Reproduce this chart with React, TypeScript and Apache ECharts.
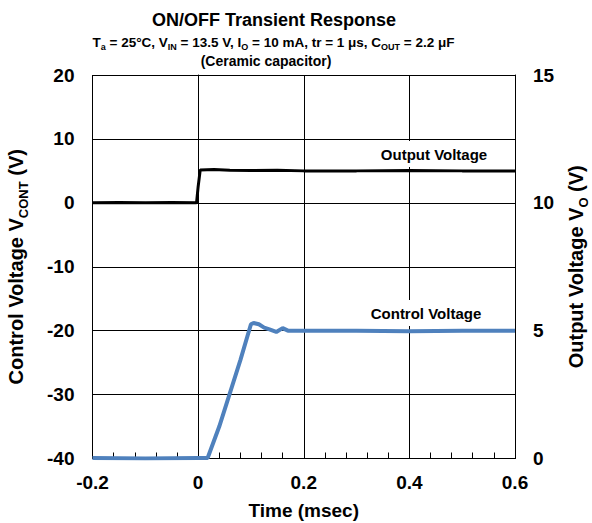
import React, { useEffect, useRef } from "react";
import * as echarts from "echarts";

// Black trace (left axis)
const blackTime = [-0.2, -0.15, -0.1, -0.05, -0.003, 0.0, 0.004, 0.03, 0.06, 0.1, 0.15, 0.2, 0.3, 0.4, 0.5, 0.6];
const blackValues = [0.0, 0.05, 0.0, 0.05, 0.0, 2.5, 5.15, 5.2, 5.1, 5.05, 5.1, 5.0, 5.0, 5.05, 5.0, 5.0];

// Blue trace (right axis)
const blueTime = [-0.2, -0.1, 0.0, 0.018, 0.04, 0.06, 0.08, 0.1, 0.105, 0.115, 0.125, 0.135, 0.148, 0.16, 0.17, 0.2, 0.3, 0.4, 0.5, 0.6];
const blueValues = [0.02, 0.0, 0.02, 0.02, 1.25, 2.55, 3.85, 5.25, 5.3, 5.25, 5.12, 5.05, 4.95, 5.1, 5.0, 5.0, 5.0, 4.98, 5.0, 5.0];

const xTicks = { min: -0.2, max: 0.6, interval: 0.2 };
const leftTicks = { min: -40, max: 20, interval: 10 };
const rightTicks = { min: 0, max: 15, interval: 5 };

const FONT = '"Liberation Sans", Arial, sans-serif';

export default function App() {
  const ref = useRef<HTMLDivElement>(null);
  useEffect(() => {
    if (!ref.current) return;
    const chart = echarts.init(ref.current, null, { renderer: "svg" });
    const blackData = blackTime.map((t, i) => [t, blackValues[i]]);
    const blueData = blueTime.map((t, i) => [t, blueValues[i]]);
    const lbl = { color: "#000", fontFamily: FONT, fontWeight: "bold", fontSize: 19 };
    const subRich = (size: number, sub: number, lh: number) => ({
      n: { fontFamily: FONT, fontWeight: "bold", fontSize: size, color: "#000", verticalAlign: "top", lineHeight: lh },
      s: { fontFamily: FONT, fontWeight: "bold", fontSize: sub, color: "#000", verticalAlign: "bottom", lineHeight: sub },
    });
    chart.setOption({
      animation: false,
      backgroundColor: "#fff",
      grid: { left: 92.5, right: 77, top: 75, bottom: 64.5, containLabel: false, outerBoundsMode: "none" },
      xAxis: {
        type: "value",
        min: xTicks.min,
        max: xTicks.max,
        interval: xTicks.interval,
        axisLine: { show: true, onZero: false, lineStyle: { color: "#000", width: 1 } },
        axisTick: { show: true, inside: true, length: 6, lineStyle: { color: "#000" } },
        minorTick: { show: true, splitNumber: 5, length: 6, lineStyle: { color: "#000", width: 1 } },
        splitLine: { show: true, lineStyle: { color: "#000", width: 1 } },
        axisLabel: { ...lbl, margin: 14, formatter: (v: number) => (Math.abs(v) < 1e-9 ? "0" : String(Math.round(v * 10) / 10)) },
        name: "Time (msec)",
        nameLocation: "middle",
        nameGap: 42,
        nameTextStyle: { ...lbl, fontSize: 19 },
      },
      yAxis: [
        {
          type: "value",
          min: leftTicks.min,
          max: leftTicks.max,
          interval: leftTicks.interval,
          axisLine: { show: true, lineStyle: { color: "#000", width: 1 } },
          axisTick: { show: false },
          splitLine: { show: true, lineStyle: { color: "#000", width: 1 } },
          axisLabel: { ...lbl, margin: 18 },
          name: "{n|Control Voltage V}{s|CONT}{n| (V)}",
          nameLocation: "middle",
          nameRotate: 90,
          nameGap: 63,
          nameTextStyle: { rich: subRich(20, 13, 24) },
        },
        {
          type: "value",
          position: "right",
          min: rightTicks.min,
          max: rightTicks.max,
          interval: rightTicks.interval,
          axisLine: { show: true, lineStyle: { color: "#000", width: 1 } },
          axisTick: { show: false },
          splitLine: { show: false },
          axisLabel: { ...lbl, margin: 18 },
          name: "{n|Output Voltage V}{s|O}{n| (V)}",
          nameLocation: "middle",
          nameRotate: 90,
          nameGap: 51,
          nameTextStyle: { rich: subRich(20, 13, 24) },
        },
      ],
      series: [
        {
          type: "line",
          yAxisIndex: 0,
          data: blackData,
          showSymbol: false,
          lineStyle: { color: "#000", width: 3 },
          z: 3,
        },
        {
          type: "line",
          yAxisIndex: 1,
          data: blueData,
          showSymbol: false,
          lineStyle: { color: "#4F81BD", width: 4 },
          z: 3,
        },
      ],
      graphic: [
        {
          type: "text",
          x: 274,
          y: 20,
          style: { text: "ON/OFF Transient Response", font: `bold 18px ${FONT}`, fill: "#000", align: "center", verticalAlign: "middle" },
        },
        {
          type: "text",
          x: 273.5,
          y: 43,
          style: {
            text: "{n|T}{s|a}{n| = 25°C, V}{s|IN}{n| = 13.5 V, I}{s|O}{n| = 10 mA, tr = 1 μs, C}{s|OUT}{n| = 2.2 μF}",
            rich: subRich(13.5, 9, 16),
            align: "center",
            verticalAlign: "middle",
          },
        },
        {
          type: "text",
          x: 266,
          y: 61,
          style: { text: "(Ceramic capacitor)", font: `bold 14px ${FONT}`, fill: "#000", align: "center", verticalAlign: "middle" },
        },
        {
          type: "text",
          x: 434,
          y: 154,
          z: 10,
          style: {
            text: "Output Voltage",
            font: `bold 15px ${FONT}`,
            fill: "#000",
            align: "center",
            verticalAlign: "middle",
            backgroundColor: "#fff",
            padding: [7, 15, 4, 15],
          },
        },
        {
          type: "text",
          x: 426,
          y: 313,
          z: 10,
          style: {
            text: "Control Voltage",
            font: `bold 15px ${FONT}`,
            fill: "#000",
            align: "center",
            verticalAlign: "middle",
            backgroundColor: "#fff",
            padding: [6, 8, 5, 8],
          },
        },
      ],
    });
    return () => chart.dispose();
  }, []);
  return <div ref={ref} style={{ position: "fixed", left: 0, top: 0, width: 592, height: 523 }} />;
}
